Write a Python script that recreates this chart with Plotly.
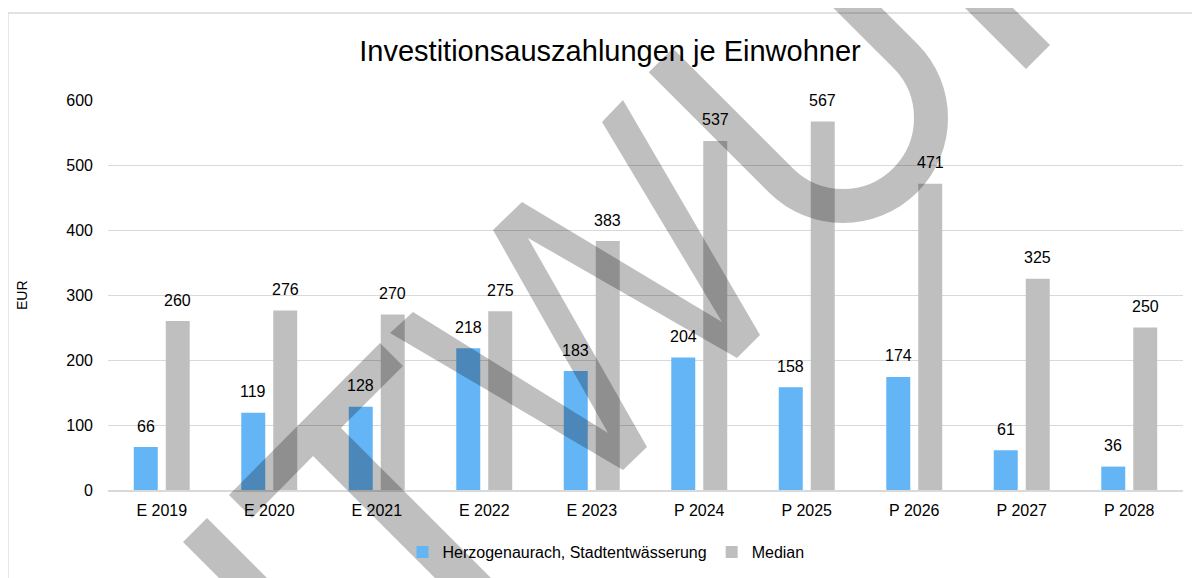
import plotly.graph_objects as go

# ---------------- data ----------------
categories = ["E 2019", "E 2020", "E 2021", "E 2022", "E 2023",
              "P 2024", "P 2025", "P 2026", "P 2027", "P 2028"]
herzogenaurach = [66, 119, 128, 218, 183, 204, 158, 174, 61, 36]
median = [260, 276, 270, 275, 383, 537, 567, 471, 325, 250]
y_ticks = [0, 100, 200, 300, 400, 500, 600]

series_names = ["Herzogenaurach, Stadtentwässerung", "Median"]
title_text = "Investitionsauszahlungen je Einwohner"
y_title = "EUR"

# ---------------- layout constants ----------------
# page body has an 8px margin, so the figure is 8px smaller than the window
OFF = 8
W, H = 1200 - OFF, 578 - OFF
PLOT_L, PLOT_R, PLOT_T, PLOT_B = 108, 1183, 100, 490   # screen pixels
PW, PH = PLOT_R - PLOT_L, PLOT_B - PLOT_T
L, T = PLOT_L - OFF, PLOT_T - OFF
R, B = W - (PLOT_R - OFF), H - (PLOT_B - OFF)

BLUE = "#64B5F6"
GREY = "#BFBFBF"
GRID = "#D9D9D9"
TXT = "#000000"
FONT = "Liberation Sans, Arial, sans-serif"
WM = "rgba(0,0,0,0.25)"


def to_paper(x, y):
    """screen pixel -> paper coordinates"""
    return (x - PLOT_L) / PW, (PLOT_B - y) / PH


def poly_path(pts):
    parts = []
    for i, (x, y) in enumerate(pts):
        px_, py_ = to_paper(x, y)
        parts.append(("M" if i == 0 else "L") + f"{px_:.5f},{py_:.5f}")
    return " ".join(parts) + " Z"


fig = go.Figure()
fig.add_bar(x=categories, y=herzogenaurach, name=series_names[0],
            marker=dict(color=BLUE, line=dict(width=0)))
fig.add_bar(x=categories, y=median, name=series_names[1],
            marker=dict(color=GREY, line=dict(width=0)))

annotations = []
for cat, v in zip(categories, herzogenaurach):
    annotations.append(dict(x=cat, y=v, xref="x", yref="y", text=str(v), showarrow=False,
                            xshift=-16, yshift=21, yanchor="middle",
                            font=dict(size=16, color=TXT, family=FONT)))
for cat, v in zip(categories, median):
    annotations.append(dict(x=cat, y=v, xref="x", yref="y", text=str(v), showarrow=False,
                            xshift=16, yshift=21, yanchor="middle",
                            font=dict(size=16, color=TXT, family=FONT)))
# y-axis title
annotations.append(dict(x=to_paper(22, 0)[0], y=0.5, xref="paper", yref="paper",
                        text=y_title, showarrow=False, textangle=-90,
                        xanchor="center", yanchor="middle",
                        font=dict(size=14, color=TXT, family=FONT)))

# ---------------- decorations: frame + watermark ----------------
shapes = []
fx0, fy0 = to_paper(8, 13)
fx1, fy1 = to_paper(1240, 620)
shapes.append(dict(type="rect", xref="paper", yref="paper", x0=fx0, y0=fy1, x1=fx1, y1=fy0,
                   line=dict(color=GRID, width=1.3), layer="below"))

wm_polys = [
    [(183, 542), (207, 518), (307, 618), (283, 642)],
    [(229, 495), (380, 343), (403, 366), (341, 428), (553, 640), (497, 640), (313, 456), (252, 518)],
    [(413, 312), (608, 433), (493, 230), (522, 202), (722, 322), (602, 122), (623, 100),
     (760, 335), (737, 358), (528, 238), (647, 447), (623, 470), (390, 333)],
    [(907, -50), (955, -50), (1050, 45), (1026, 69)],
]
for p in wm_polys:
    shapes.append(dict(type="path", xref="paper", yref="paper", path=poly_path(p),
                       fillcolor=WM, line=dict(width=0), layer="above"))

# U-shaped stroke
Cx, Cy, Rr = 843.0, 118.0, 88.0
k = 0.5523 * Rr
s = 0.70711
uu, vv, ww = (-s, s), (s, s), (s, -s)
T1 = (Cx + Rr * uu[0], Cy + Rr * uu[1])
Bm = (Cx + Rr * vv[0], Cy + Rr * vv[1])
T2 = (Cx + Rr * ww[0], Cy + Rr * ww[1])
c1 = (T1[0] + k * vv[0], T1[1] + k * vv[1])
c2 = (Bm[0] + k * uu[0], Bm[1] + k * uu[1])
c3 = (Bm[0] + k * ww[0], Bm[1] + k * ww[1])
c4 = (T2[0] + k * vv[0], T2[1] + k * vv[1])
S0 = (T1[0] - 120, T1[1] - 120)
E0 = (T2[0] - 160, T2[1] - 160)


def pp(p):
    a, b = to_paper(*p)
    return f"{a:.5f},{b:.5f}"


u_path = (f"M{pp(S0)} L{pp(T1)} C{pp(c1)} {pp(c2)} {pp(Bm)} "
          f"C{pp(c3)} {pp(c4)} {pp(T2)} L{pp(E0)}")
shapes.append(dict(type="path", xref="paper", yref="paper", path=u_path,
                   line=dict(color=WM, width=34), layer="above"))

fig.update_layout(
    width=W, height=H,
    margin=dict(l=L, r=R, t=T, b=B, autoexpand=False),
    paper_bgcolor="white", plot_bgcolor="white",
    font=dict(family=FONT, size=16, color=TXT),
    barmode="group", bargap=0.405, bargroupgap=0.25,
    title=dict(text=title_text, x=(610 - OFF) / W, xref="container", xanchor="center",
               y=1 - (51 - OFF) / H, yref="container", yanchor="middle",
               font=dict(size=29, color=TXT, family=FONT)),
    legend=dict(orientation="h", x=to_paper(606, 0)[0], y=to_paper(0, 552)[1],
                xanchor="center", yanchor="middle", font=dict(size=16, color=TXT),
                bgcolor="rgba(0,0,0,0)", itemwidth=30, tracegroupgap=0),
    showlegend=True,
    annotations=annotations,
    shapes=shapes,
)
fig.update_xaxes(showgrid=False, showline=True, linecolor=GRID, linewidth=1.5,
                 ticks="", tickfont=dict(size=16, color=TXT), ticklabelstandoff=5)
fig.update_yaxes(range=[0, 600], tickvals=y_ticks, showgrid=True, gridcolor=GRID,
                 gridwidth=1.3, zeroline=False, showline=False, ticks="",
                 tickfont=dict(size=16, color=TXT), ticklabelstandoff=14)

fig.write_html("out.html")
